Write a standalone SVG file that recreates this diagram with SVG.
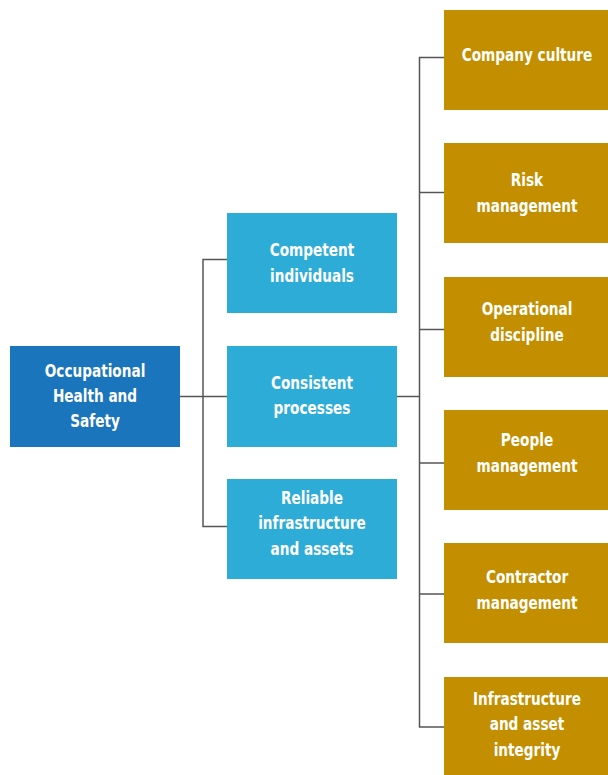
<svg xmlns="http://www.w3.org/2000/svg" width="608" height="775" viewBox="0 0 608 775">
  <style>
    .lbl { font-family: "DejaVu Sans Condensed", "Liberation Sans Narrow", "Liberation Sans", sans-serif; font-size: 18.5px; font-weight: bold; fill: #ffffff; text-anchor: middle; }
    .root { fill: #1b75bc; }
    .mid { fill: #2eacd8; }
    .leaf { fill: #c38f00; }
    .wire { fill: none; stroke: #555555; stroke-width: 1.5; }
  </style>
  <rect width="608" height="775" fill="#ffffff"/>

  <!-- connectors -->
  <g id="connectors">
    <path class="wire" d="M180,396.5 H227"/>
    <path class="wire" d="M227,259.5 H203 V526.5 H227"/>
    <path class="wire" d="M397,396.5 H419"/>
    <path class="wire" d="M444,57.5 H419.5 V727 H444"/>
    <path class="wire" d="M419.5,192.5 H444"/>
    <path class="wire" d="M419.5,329.5 H444"/>
    <path class="wire" d="M419.5,463 H444"/>
    <path class="wire" d="M419.5,594 H444"/>
  </g>

  <!-- root -->
  <g id="ohs">
    <rect class="root" x="10" y="346" width="170" height="101"/>
    <g transform="translate(95,0) scale(0.82,1)">
      <text class="lbl" x="0" y="377">Occupational</text>
      <text class="lbl" x="0" y="402.5">Health and</text>
      <text class="lbl" x="0" y="427.5">Safety</text>
    </g>
  </g>

  <!-- second level -->
  <g id="competent">
    <rect class="mid" x="227" y="213" width="170" height="100"/>
    <g transform="translate(312,0) scale(0.82,1)">
      <text class="lbl" x="0" y="256.5">Competent</text>
      <text class="lbl" x="0" y="282">individuals</text>
    </g>
  </g>
  <g id="consistent">
    <rect class="mid" x="227" y="346" width="170" height="101"/>
    <g transform="translate(312,0) scale(0.82,1)">
      <text class="lbl" x="0" y="389">Consistent</text>
      <text class="lbl" x="0" y="414.5">processes</text>
    </g>
  </g>
  <g id="reliable">
    <rect class="mid" x="227" y="479" width="170" height="100"/>
    <g transform="translate(312,0) scale(0.82,1)">
      <text class="lbl" x="0" y="504">Reliable</text>
      <text class="lbl" x="0" y="529.5">infrastructure</text>
      <text class="lbl" x="0" y="555">and assets</text>
    </g>
  </g>

  <!-- third level -->
  <g id="culture">
    <rect class="leaf" x="444" y="10" width="164" height="100"/>
    <g transform="translate(527,0) scale(0.82,1)">
      <text class="lbl" x="0" y="61">Company culture</text>
    </g>
  </g>
  <g id="risk">
    <rect class="leaf" x="444" y="143" width="164" height="100"/>
    <g transform="translate(527,0) scale(0.82,1)">
      <text class="lbl" x="0" y="186.5">Risk</text>
      <text class="lbl" x="0" y="212">management</text>
    </g>
  </g>
  <g id="operational">
    <rect class="leaf" x="444" y="277" width="164" height="100"/>
    <g transform="translate(527,0) scale(0.82,1)">
      <text class="lbl" x="0" y="315.5">Operational</text>
      <text class="lbl" x="0" y="341">discipline</text>
    </g>
  </g>
  <g id="people">
    <rect class="leaf" x="444" y="410" width="164" height="100"/>
    <g transform="translate(527,0) scale(0.82,1)">
      <text class="lbl" x="0" y="446.5">People</text>
      <text class="lbl" x="0" y="472">management</text>
    </g>
  </g>
  <g id="contractor">
    <rect class="leaf" x="444" y="543" width="164" height="100"/>
    <g transform="translate(527,0) scale(0.82,1)">
      <text class="lbl" x="0" y="583.5">Contractor</text>
      <text class="lbl" x="0" y="609">management</text>
    </g>
  </g>
  <g id="integrity">
    <rect class="leaf" x="444" y="677" width="164" height="100"/>
    <g transform="translate(527,0) scale(0.82,1)">
      <text class="lbl" x="0" y="705">Infrastructure</text>
      <text class="lbl" x="0" y="730.5">and asset</text>
      <text class="lbl" x="0" y="756">integrity</text>
    </g>
  </g>
</svg>
